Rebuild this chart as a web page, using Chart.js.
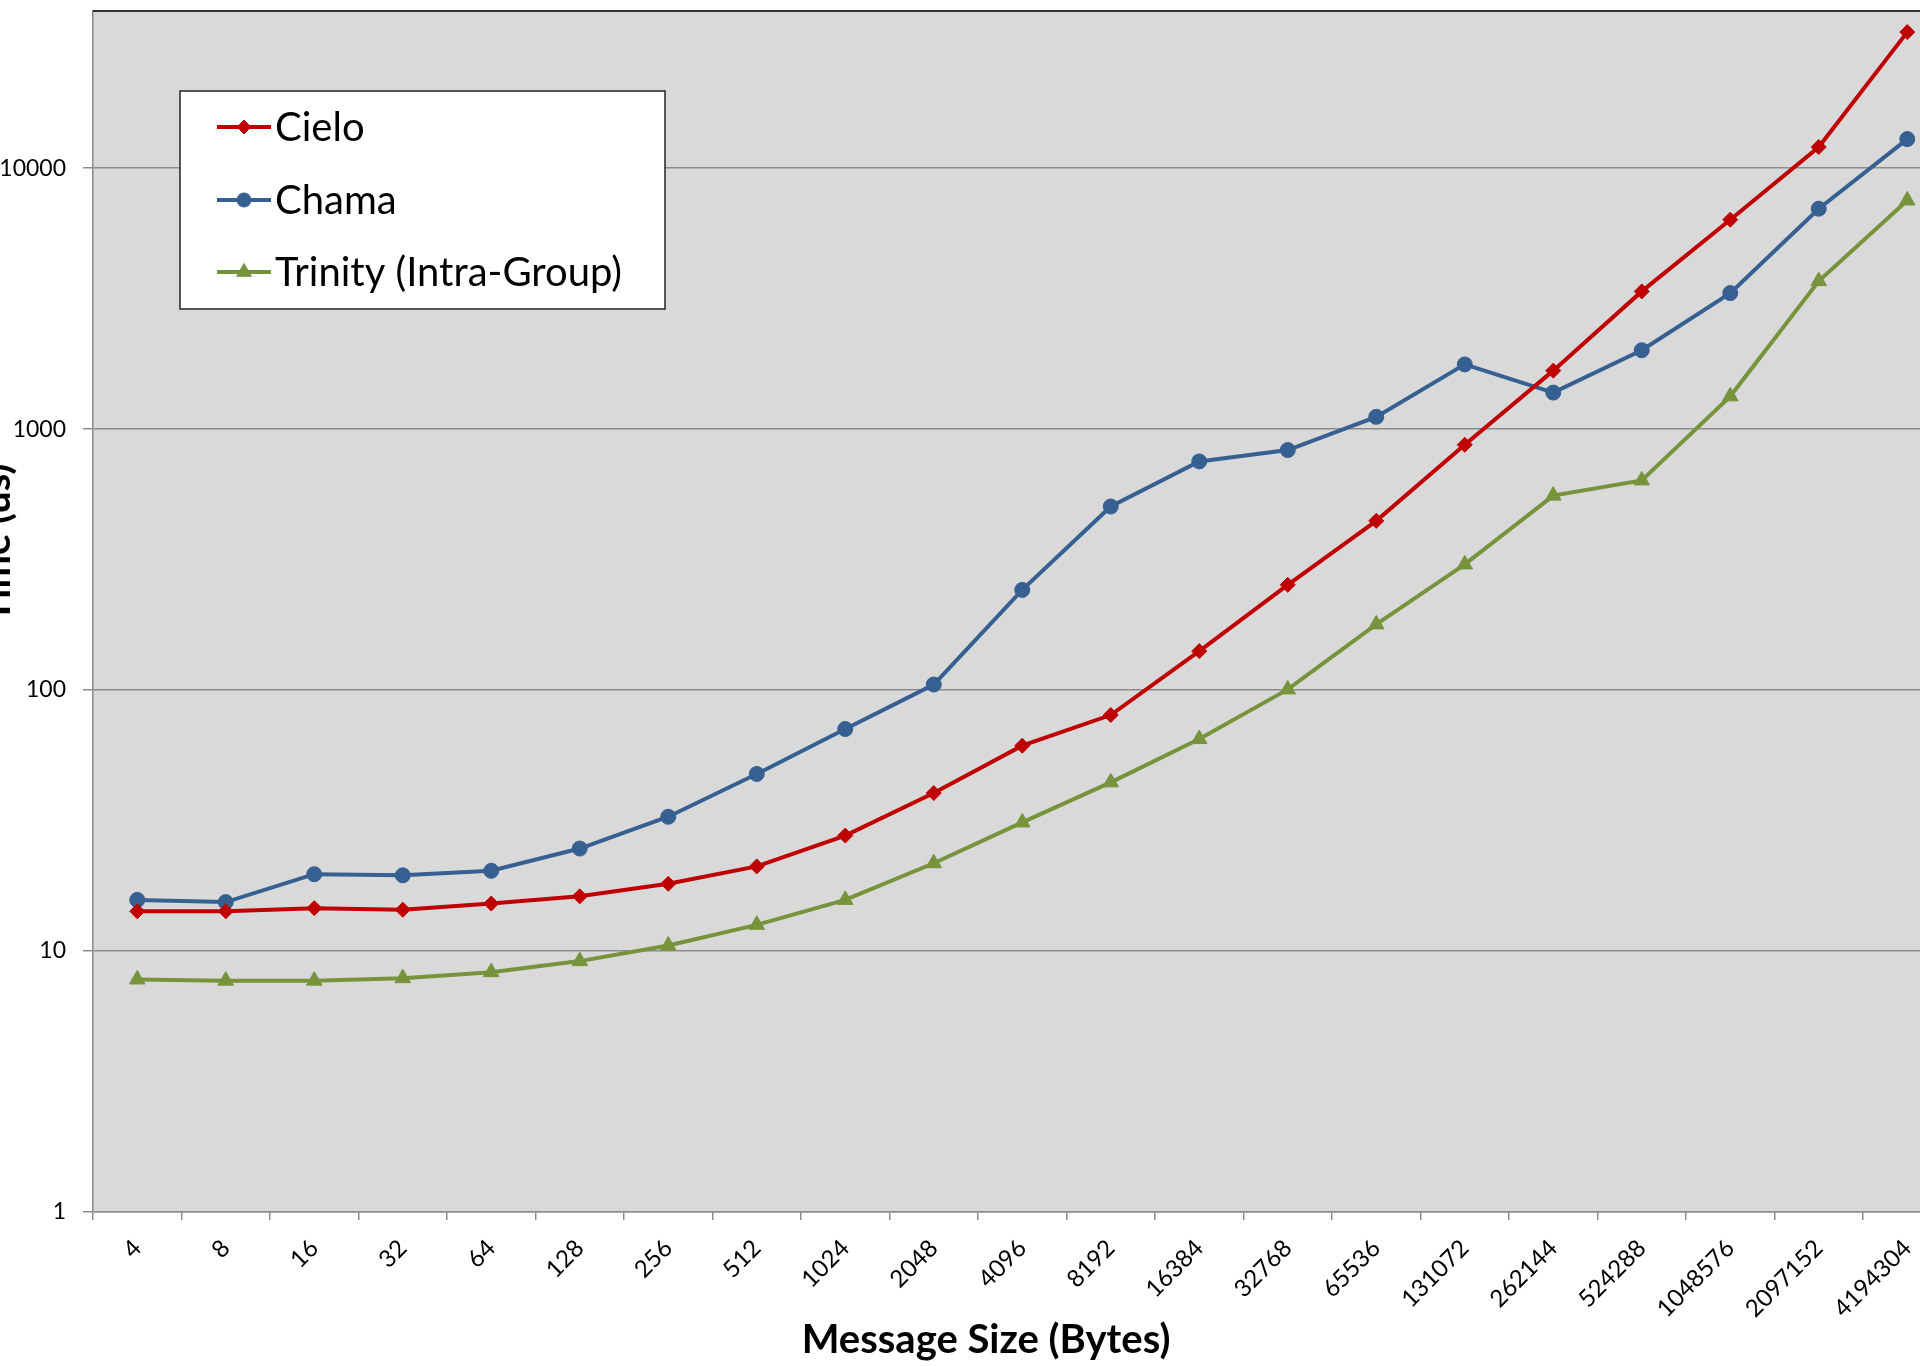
<!DOCTYPE html>
<html>
<head>
<meta charset="utf-8">
<title>Message size vs time</title>
<script src="https://cdn.jsdelivr.net/npm/chart.js@4"></script>
<style>
    html, body { margin: 0; padding: 0; background: #fff; overflow: hidden; }
    #wrap { position: absolute; left: -25px; top: 0; width: 2000px; height: 1366px; }
</style>
</head>
<body>
<div id="wrap"><canvas id="chart"></canvas></div>
<script>
const sizes = ['4', '8', '16', '32', '64', '128', '256', '512', '1024', '2048', '4096', '8192',
    '16384', '32768', '65536', '131072', '262144', '524288', '1048576', '2097152', '4194304'];

const cielo = [14.2, 14.2, 14.6, 14.4, 15.2, 16.2, 18.1, 21.1, 27.7, 40.3, 61.2, 80.2,
    141, 253, 445, 871, 1675, 3370, 6345, 12050, 33200];

const chama = [15.7, 15.4, 19.7, 19.5, 20.3, 24.7, 32.7, 47.7, 70.9, 105, 242, 505,
    752, 831, 1114, 1770, 1380, 2005, 3320, 6990, 12920];

const trinity = [7.78, 7.70, 7.70, 7.87, 8.30, 9.15, 10.5, 12.6, 15.7, 21.7, 31.1, 44.3,
    64.9, 100.6, 178.5, 303, 556, 636, 1335, 3690, 7520];

const yTicks = [1, 10, 100, 1000, 10000];

const xTitle = 'Message Size (Bytes)';
const yTitle = 'Time (us)';

const FONT = 'Lato, "Noto Sans", sans-serif';

// grey plot area, dark top border, boxed legend and the two axis titles
const plotDecor = {
    id: 'plotDecor',
    beforeDraw(chart) {
        const {ctx, chartArea: a} = chart;
        ctx.save();
        ctx.fillStyle = '#D9D9D9';
        ctx.fillRect(a.left, a.top, a.right - a.left, a.bottom - a.top);
        ctx.restore();
    },
    afterDraw(chart) {
        const {ctx, chartArea: a} = chart;
        ctx.save();
        ctx.strokeStyle = '#333';
        ctx.lineWidth = 2;
        ctx.beginPath();
        ctx.moveTo(a.left, a.top);
        ctx.lineTo(a.right, a.top);
        ctx.stroke();

        // legend box
        const bx = 205, by = 91, bw = 485, bh = 218;
        ctx.fillStyle = '#fff';
        ctx.fillRect(bx, by, bw, bh);
        ctx.strokeStyle = '#222';
        ctx.lineWidth = 1.5;
        ctx.strokeRect(bx, by, bw, bh);

        const rows = [127, 200, 272];
        ctx.font = '40px ' + FONT;
        ctx.textBaseline = 'middle';
        chart.data.datasets.forEach((ds, i) => {
            const y = rows[i];
            ctx.strokeStyle = ds.borderColor;
            ctx.lineWidth = 4;
            ctx.beginPath();
            ctx.moveTo(242, y);
            ctx.lineTo(296, y);
            ctx.stroke();
            ctx.fillStyle = ds.borderColor;
            ctx.lineWidth = 1;
            Chart.helpers.drawPoint(ctx, {pointStyle: ds.pointStyle, radius: ds.pointRadius - 0.5, borderWidth: 1}, 269, y);
            ctx.fillStyle = '#000';
            ctx.fillText(ds.label, 300, y + 1);
        });

        // axis titles
        ctx.fillStyle = '#000';
        ctx.font = 'bold 40px ' + FONT;
        ctx.textAlign = 'center';
        ctx.textBaseline = 'alphabetic';
        ctx.fillText(xTitle, 1011, 1353);
        ctx.translate(35, 543);
        ctx.rotate(-Math.PI / 2);
        ctx.fillText(yTitle, 0, 0);
        ctx.restore();
    }
};

const ctx = document.getElementById('chart').getContext('2d');
new Chart(ctx, {
    type: 'line',
    data: {
        labels: sizes,
        datasets: [
            {
                label: 'Cielo',
                data: cielo,
                borderColor: '#C00000',
                backgroundColor: '#C00000',
                pointStyle: 'rectRot',
                pointRadius: 7.5,
                pointBorderWidth: 1,
                borderWidth: 4
            },
            {
                label: 'Chama',
                data: chama,
                borderColor: '#376092',
                backgroundColor: '#376092',
                pointStyle: 'circle',
                pointRadius: 7.5,
                pointBorderWidth: 1,
                borderWidth: 4
            },
            {
                label: 'Trinity (Intra-Group)',
                data: trinity,
                borderColor: '#77933C',
                backgroundColor: '#77933C',
                pointStyle: 'triangle',
                pointRadius: 9,
                pointBorderWidth: 1,
                borderWidth: 4
            }
        ]
    },
    options: {
        responsive: true,
        maintainAspectRatio: false,
        animation: false,
        layout: { padding: { left: 0, top: 11, right: 23.5, bottom: 0 } },
        plugins: {
            legend: { display: false },
            tooltip: { enabled: false }
        },
        elements: { line: { tension: 0 } },
        scales: {
            x: {
                offset: true,
                grid: {
                    offset: true,
                    drawOnChartArea: false,
                    tickLength: 8,
                    color: '#8c8c8c',
                    lineWidth: 1.5
                },
                border: { color: '#8c8c8c', width: 1.5 },
                ticks: {
                    autoSkip: false,
                    minRotation: 45,
                    maxRotation: 45,
                    padding: 14,
                    color: '#000',
                    font: { family: FONT, size: 24 }
                },
                afterFit(scale) { scale.height = 154; }
            },
            y: {
                type: 'logarithmic',
                min: 1,
                max: 40000,
                afterBuildTicks(scale) { scale.ticks = yTicks.map(v => ({ value: v })); },
                grid: { color: '#8c8c8c', lineWidth: 1.5, tickLength: 10 },
                border: { color: '#8c8c8c', width: 1.5 },
                ticks: {
                    padding: 17,
                    color: '#000',
                    font: { family: FONT, size: 23 },
                    callback: v => String(v)
                },
                afterFit(scale) {
                    scale.width = 118;
                    scale.paddingTop = 0;
                    scale.paddingBottom = 0;
                }
            }
        }
    },
    plugins: [plotDecor]
});
</script>
</body>
</html>
